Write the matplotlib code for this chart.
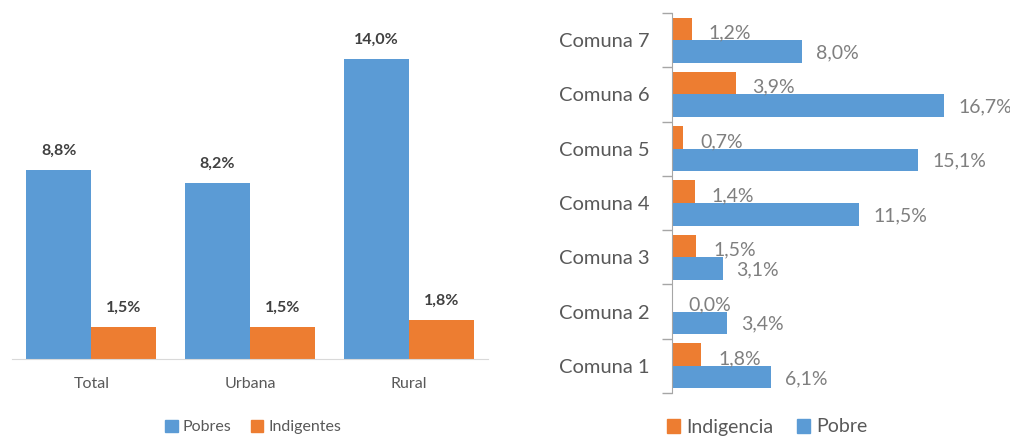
import matplotlib.pyplot as plt
from matplotlib.patches import Patch
import numpy as np

# Datos panel izquierdo (por área)
areas = ['Total', 'Urbana', 'Rural']
pobres = [8.8, 8.2, 14.0]
indigentes = [1.5, 1.5, 1.8]

# Datos panel derecho (por comuna)
comunas = ['Comuna 1', 'Comuna 2', 'Comuna 3', 'Comuna 4', 'Comuna 5', 'Comuna 6', 'Comuna 7']
pobre_comuna = [6.1, 3.4, 3.1, 11.5, 15.1, 16.7, 8.0]
indigencia_comuna = [1.8, 0.0, 1.5, 1.4, 0.7, 3.9, 1.2]

azul = '#5B9BD5'
naranja = '#ED7D31'
gris_texto = '#595959'

plt.rcParams['font.family'] = ['Lato', 'DejaVu Sans']

W, H = 1010, 437
fig = plt.figure(figsize=(W / 100, H / 100), dpi=100)

def fmt(v):
    return f'{v:.1f}%'.replace('.', ',')

# Panel izquierdo
ax1 = fig.add_axes([12 / W, (H - 359) / H, 476 / W, 343 / H])
x = np.arange(len(areas))
ancho = 0.41
b1 = ax1.bar(x - ancho / 2, pobres, ancho, color=azul)
b2 = ax1.bar(x + ancho / 2, indigentes, ancho, color=naranja)
for barras, vals in [(b1, pobres), (b2, indigentes)]:
    for b, v in zip(barras, vals):
        ax1.annotate(fmt(v), (b.get_x() + b.get_width() / 2, v), xytext=(0, 9),
                     textcoords='offset points', ha='center', va='bottom',
                     fontsize=11.5, fontweight='bold', color='#404040')
ax1.set_xlim(-0.5, 2.5)
ax1.set_ylim(0, 16)
ax1.set_xticks(x, areas)
ax1.tick_params(axis='x', length=0, pad=13, labelsize=11.5, labelcolor=gris_texto)
ax1.set_yticks([])
for s in ['top', 'right', 'left']:
    ax1.spines[s].set_visible(False)
ax1.spines['bottom'].set_color('#d9d9d9')

fig.legend(handles=[Patch(color=azul, label='Pobres'), Patch(color=naranja, label='Indigentes')],
           loc='center', bbox_to_anchor=(253 / W, 10 / H), ncol=2, frameon=False,
           fontsize=11.5, labelcolor=gris_texto, handlelength=0.8, handleheight=0.8,
           handletextpad=0.3, columnspacing=1.2)

# Panel derecho
ax2 = fig.add_axes([672 / W, (H - 393) / H, 326 / W, 380 / H])
y = np.arange(len(comunas))
alto = 0.415
c1 = ax2.barh(y + alto / 2, indigencia_comuna, alto, color=naranja)
c2 = ax2.barh(y - alto / 2, pobre_comuna, alto, color=azul)
for barras, vals, dx, dy in [(c1, indigencia_comuna, 12, -3), (c2, pobre_comuna, 10, -1)]:
    for b, v in zip(barras, vals):
        ax2.annotate(fmt(v), (v, b.get_y() + b.get_height() / 2), xytext=(dx, dy),
                     textcoords='offset points', ha='left', va='center',
                     fontsize=14, color='#7f7f7f')
ax2.set_xlim(0, 20)
ax2.set_ylim(-0.5, 6.5)
ax2.set_yticks(y, comunas)
ax2.set_yticks(np.arange(-0.5, 7, 1), minor=True)
ax2.tick_params(axis='y', which='major', length=0, pad=16, labelsize=14.5, labelcolor=gris_texto)
ax2.tick_params(axis='y', which='minor', length=7, width=1, color='#a6a6a6')
ax2.set_xticks([])
for s in ['top', 'right', 'bottom']:
    ax2.spines[s].set_visible(False)
ax2.spines['left'].set_color('#a6a6a6')

fig.legend(handles=[Patch(color=naranja, label='Indigencia'), Patch(color=azul, label='Pobre')],
           loc='center', bbox_to_anchor=(767 / W, 10 / H), ncol=2, frameon=False,
           fontsize=14, labelcolor=gris_texto, handlelength=0.7, handleheight=0.7,
           handletextpad=0.3, columnspacing=1.2)

fig.savefig('out.png', dpi=100)
